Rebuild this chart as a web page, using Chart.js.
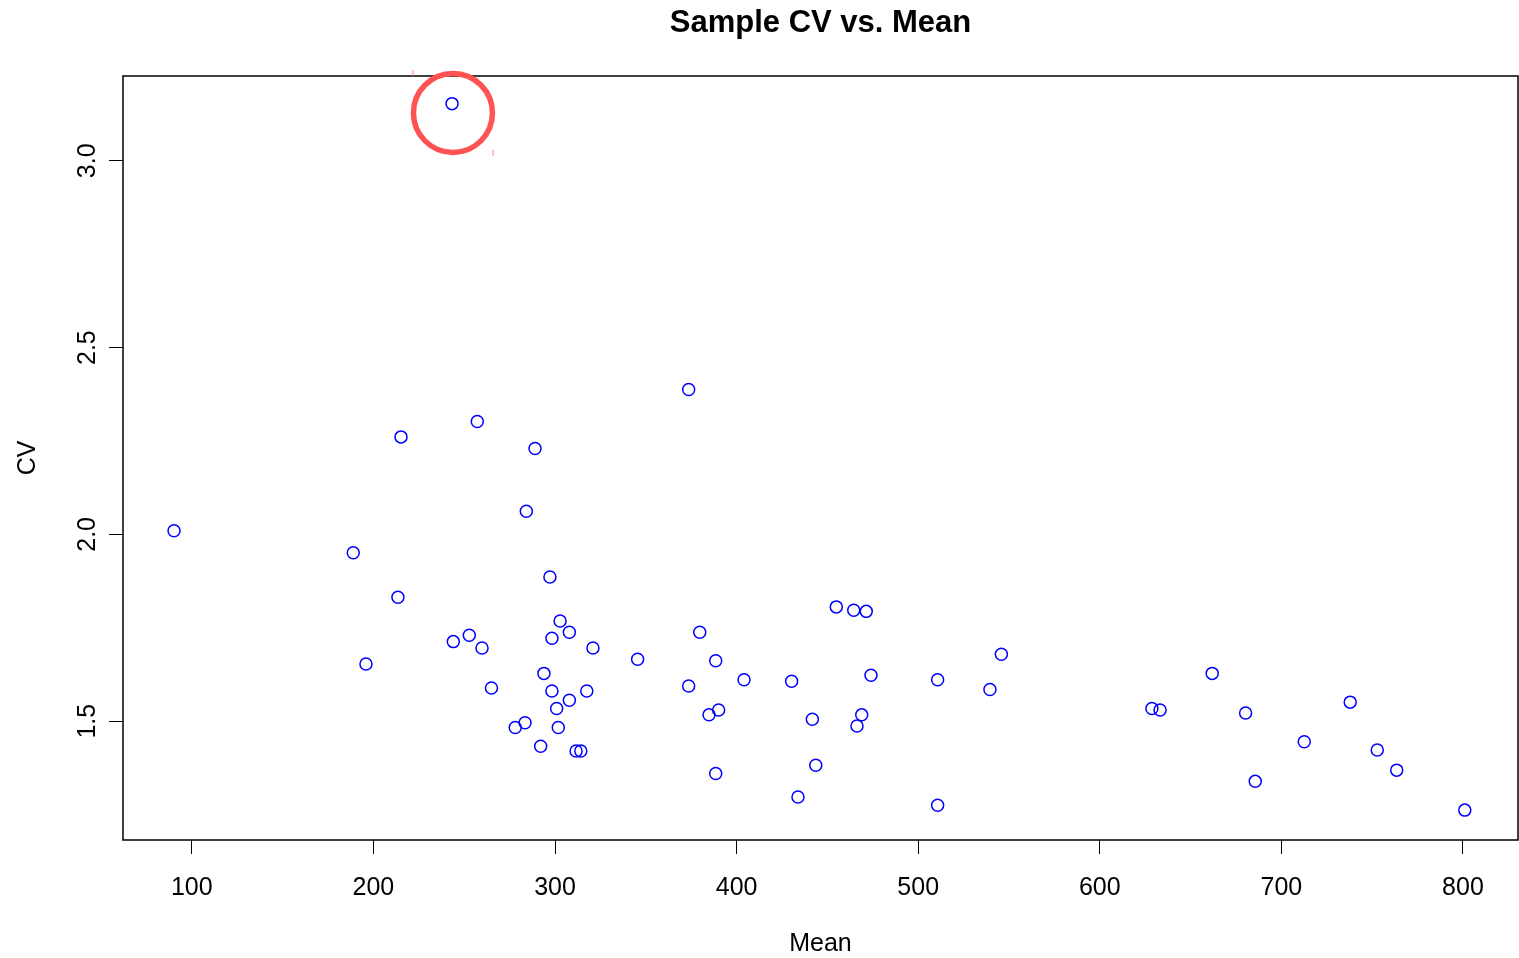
<!DOCTYPE html>
<html>
<head>
<meta charset="utf-8">
<title>Sample CV vs. Mean</title>
<script src="https://cdn.jsdelivr.net/npm/chart.js@4.4.1/dist/chart.umd.min.js"></script>
<style>
  html, body { margin: 0; padding: 0; background: #fff; }
  canvas { display: block; }
</style>
</head>
<body>
<canvas id="myChart" width="1519" height="958"></canvas>
<script>
// sample means and their coefficients of variation
const means = [243.3, 90.2, 215.2, 257.2, 289.0, 284.2, 188.9, 213.5, 195.9, 244.0,
  252.8, 259.8, 265.0, 278.1, 283.5, 292.1, 293.9, 297.2, 298.3, 298.3,
  300.9, 301.8, 302.8, 307.9, 307.9, 311.6, 314.2, 317.5, 320.9, 345.5,
  373.6, 373.6, 379.7, 384.8, 390.1, 388.5, 388.5, 404.1, 430.3, 433.8,
  441.7, 443.6, 454.9, 464.5, 471.4, 466.3, 468.9, 474.0, 510.7, 510.7,
  539.5, 545.8, 628.7, 633.2, 661.9, 680.3, 685.6, 712.6, 737.9, 752.8,
  763.5, 801.0];
const cvs = [3.153, 2.010, 2.261, 2.302, 2.230, 2.062, 1.951, 1.832, 1.653, 1.713,
  1.730, 1.696, 1.589, 1.483, 1.496, 1.433, 1.628, 1.886, 1.722, 1.581,
  1.534, 1.483, 1.768, 1.738, 1.556, 1.420, 1.420, 1.581, 1.696, 1.666,
  2.388, 1.594, 1.738, 1.517, 1.530, 1.662, 1.360, 1.611, 1.607, 1.297,
  1.505, 1.382, 1.806, 1.797, 1.794, 1.487, 1.517, 1.623, 1.611, 1.275,
  1.585, 1.679, 1.534, 1.530, 1.628, 1.522, 1.339, 1.445, 1.551, 1.423,
  1.369, 1.262];

// the outlier that is circled in red
const highlightMean = [243.8];
const highlightCv = [3.128];
// little marks at the corners of the highlight
const cornerMeans = [221.8, 265.9];
const cornerCvs = [3.235, 3.021];

const xTicks = [100, 200, 300, 400, 500, 600, 700, 800];
const yTicks = [1.5, 2.0, 2.5, 3.0];
const xRange = [62.1, 830.3];
const yRange = [1.182, 3.227];

const FONT = "'Liberation Sans', Arial, Helvetica, sans-serif";

function toPoints(xs, ys) {
  return xs.map((x, i) => ({ x: x, y: ys[i] }));
}

// box around the plot region, like R's box()
const boxPlugin = {
  id: 'box',
  beforeDatasetsDraw(chart) {
    const a = chart.chartArea;
    const ctx = chart.ctx;
    ctx.save();
    ctx.strokeStyle = '#000';
    ctx.lineWidth = 1.5;
    ctx.strokeRect(a.left, a.top, a.right - a.left, a.bottom - a.top);
    ctx.restore();
  }
};

// main title centred over the plot region
const mainTitle = {
  id: 'mainTitle',
  afterDraw(chart) {
    const a = chart.chartArea;
    const ctx = chart.ctx;
    ctx.save();
    ctx.font = 'bold 31px ' + FONT;
    ctx.fillStyle = '#000';
    ctx.textAlign = 'center';
    ctx.textBaseline = 'middle';
    ctx.fillText('Sample CV vs. Mean', (a.left + a.right) / 2, 23);
    ctx.restore();
  }
};

const ctx = document.getElementById('myChart').getContext('2d');

const chart = new Chart(ctx, {
  type: 'scatter',
  data: {
    datasets: [{
      label: 'CV',
      data: toPoints(means, cvs),
      pointStyle: 'circle',
      pointRadius: 6,
      pointBorderWidth: 1.5,
      borderColor: '#0000ff',
      backgroundColor: 'rgba(0,0,0,0)'
    }, {
      label: 'highlight',
      data: toPoints(highlightMean, highlightCv),
      pointStyle: 'circle',
      pointRadius: 39.5,
      pointBorderWidth: 5.5,
      borderColor: '#ff5252',
      backgroundColor: 'rgba(0,0,0,0)',
      clip: false
    }, {
      label: 'corners',
      data: toPoints(cornerMeans, cornerCvs),
      pointStyle: 'line',
      rotation: 90,
      pointRadius: 3,
      pointBorderWidth: 1,
      borderColor: '#ff8080',
      clip: false
    }]
  },
  options: {
    responsive: false,
    animation: false,
    events: [],
    layout: {
      autoPadding: false,
      padding: { top: 76, right: 1, left: 0, bottom: 0 }
    },
    plugins: {
      legend: { display: false },
      tooltip: { enabled: false },
      title: { display: false }
    },
    scales: {
      x: {
        type: 'linear',
        min: xRange[0],
        max: xRange[1],
        afterFit(scale) {
          scale.height = 118;
          scale.paddingLeft = 0;
          scale.paddingRight = 0;
        },
        afterBuildTicks(scale) { scale.ticks = xTicks.map(v => ({ value: v })); },
        grid: { drawOnChartArea: false, drawTicks: true, tickLength: 14, color: '#000', lineWidth: 1 },
        border: { display: false },
        ticks: {
          color: '#000',
          padding: 19,
          maxRotation: 0,
          font: { family: FONT, size: 25 }
        },
        title: {
          display: true,
          text: 'Mean',
          color: '#000',
          font: { family: FONT, size: 25, lineHeight: 1.1 },
          padding: { top: 0, bottom: 0 }
        }
      },
      y: {
        type: 'linear',
        min: yRange[0],
        max: yRange[1],
        afterFit(scale) {
          scale.width = 123;
          scale.paddingTop = 0;
          scale.paddingBottom = 0;
        },
        afterBuildTicks(scale) { scale.ticks = yTicks.map(v => ({ value: v })); },
        grid: { drawOnChartArea: false, drawTicks: true, tickLength: 14, color: '#000', lineWidth: 1 },
        border: { display: false },
        ticks: {
          color: '#000',
          padding: 4,
          minRotation: 90,
          maxRotation: 90,
          crossAlign: 'center',
          font: { family: FONT, size: 25 },
          callback: v => v.toFixed(1)
        },
        title: {
          display: true,
          text: 'CV',
          color: '#000',
          font: { family: FONT, size: 25 },
          padding: { top: 13, bottom: 0 }
        }
      }
    }
  },
  plugins: [boxPlugin, mainTitle]
});
</script>
</body>
</html>
